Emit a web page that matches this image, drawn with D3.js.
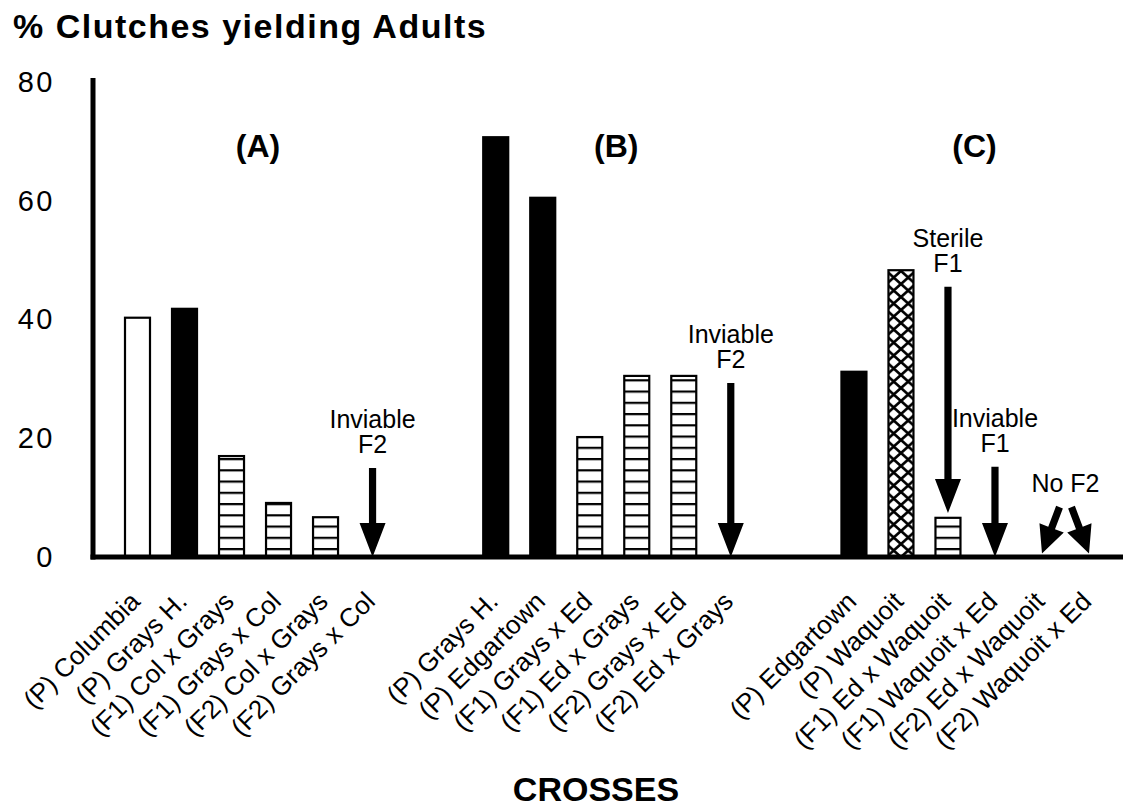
<!DOCTYPE html>
<html>
<head>
<meta charset="utf-8">
<script src="https://cdn.jsdelivr.net/npm/d3@7"></script>
<style>
  body { margin: 0; background: #fff; }
  svg { display: block; font-family: "Liberation Sans", Arial, Helvetica, sans-serif; }
</style>
</head>
<body>
<svg id="graph"></svg>
<script>
// Data
const groupNames = [ "(A)", "(B)", "(C)" ];
const crosses = [
    [ "(P) Columbia", "(P) Grays H.", "(F1) Col x Grays", "(F1) Grays x Col", "(F2) Col x Grays", "(F2) Grays x Col" ],
    [ "(P) Grays H.", "(P) Edgartown", "(F1) Grays x Ed", "(F1) Ed x Grays", "(F2) Grays x Ed", "(F2) Ed x Grays" ],
    [ "(P) Edgartown", "(P) Waquoit", "(F1) Ed x Waquoit", "(F1) Waquoit x Ed", "(F2) Ed x Waquoit", "(F2) Waquoit x Ed" ]
];
const pctAdults = [
    [ 40.3, 41.8, 17.0, 9.1, 6.7, 0 ],
    [ 70.7, 60.5, 20.2, 30.5, 30.5, 0 ],
    [ 31.2, 48.3, 6.6, 0, 0, 0 ]
];
const barKind = [
    [ "open", "solid", "hatch", "hatch", "hatch", null ],
    [ "solid", "solid", "hatch", "hatch", "hatch", null ],
    [ "solid", "cross", "hatch", null, null, null ]
];
const yTicks = [ 0, 20, 40, 60, 80 ];
// annotations: group, target crosses, label lines, arrow start / end (in % units)
const notes = [
    { group: 0, targets: [ 5 ], lines: [ "Inviable", "F2" ], from: 15, to: 0 },
    { group: 1, targets: [ 5 ], lines: [ "Inviable", "F2" ], from: 29.3, to: 0 },
    { group: 2, targets: [ 2 ], lines: [ "Sterile", "F1" ], from: 45.5, to: 7.4 },
    { group: 2, targets: [ 3 ], lines: [ "Inviable", "F1" ], from: 15.2, to: 0 },
    { group: 2, targets: [ 4, 5 ], lines: [ "No F2" ], from: 8.4, to: 0.6 }
];

// Layout
var svgWidth = 1123,
    svgHeight = 808,
    groupGap = 1.62,
    barWidth = 25,
    axisX = 93,
    labelFont = 26;

const svg = d3.select( "svg#graph" )
    .attr( "width", svgWidth )
    .attr( "height", svgHeight );

const pos = ( g, i ) => g * ( 6 + groupGap ) + i;
const x = d3.scaleLinear().domain( [ 0, pos( 2, 5 ) ] ).range( [ 137.5, 1089 ] );
const y = d3.scaleLinear().domain( [ 0, 80 ] ).range( [ 557, 82 ] );

// patterns
const defs = svg.append( "defs" );
const hatch = defs.append( "pattern" )
    .attr( "id", "hatch" )
    .attr( "patternUnits", "userSpaceOnUse" )
    .attr( "width", 40 ).attr( "height", 11.25 )
    .attr( "y", y( 0 ) - 9 );
hatch.append( "rect" ).attr( "width", 40 ).attr( "height", 11.25 ).attr( "fill", "#fff" );
hatch.append( "rect" ).attr( "y", 0 ).attr( "width", 40 ).attr( "height", 2.2 ).attr( "fill", "#000" );

const cross = defs.append( "pattern" )
    .attr( "id", "cross" )
    .attr( "patternUnits", "userSpaceOnUse" )
    .attr( "width", 14.5 ).attr( "height", 13 )
    .attr( "x", x( pos( 2, 1 ) ) - 14.5 )
    .attr( "y", y( 0 ) );
cross.append( "rect" ).attr( "width", 14.5 ).attr( "height", 13 ).attr( "fill", "#fff" );
cross.append( "path" )
    .attr( "d", "M-1,-1L15.5,14M15.5,-1L-1,14" )
    .attr( "stroke", "#000" ).attr( "stroke-width", 2.6 );

const fillFor = { open: "#fff", solid: "#000", hatch: "url(#hatch)", cross: "url(#cross)" };

// flatten data
const bars = [];
crosses.forEach( ( list, g ) => list.forEach( ( name, i ) => {
    bars.push( { g: g, i: i, name: name, value: pctAdults[ g ][ i ], kind: barKind[ g ][ i ] } );
} ) );

// bars
svg.append( "g" ).classed( "bars", true )
    .selectAll( "rect" )
    .data( bars.filter( d => d.kind ) )
    .enter()
    .append( "rect" )
    .attr( "x", d => x( pos( d.g, d.i ) ) - barWidth / 2 )
    .attr( "width", barWidth )
    .attr( "y", d => y( d.value ) )
    .attr( "height", d => y( 0 ) - y( d.value ) )
    .attr( "fill", d => fillFor[ d.kind ] )
    .attr( "stroke", "#000" )
    .attr( "stroke-width", 2.2 );

// axes
svg.append( "line" )
    .attr( "x1", axisX ).attr( "x2", axisX )
    .attr( "y1", 78 ).attr( "y2", y( 0 ) + 2.5 )
    .attr( "stroke", "#000" ).attr( "stroke-width", 5 );
svg.append( "line" )
    .attr( "x1", axisX - 2.5 ).attr( "x2", svgWidth )
    .attr( "y1", y( 0 ) ).attr( "y2", y( 0 ) )
    .attr( "stroke", "#000" ).attr( "stroke-width", 5 );

const yAxis = svg.append( "g" )
    .attr( "transform", "translate(" + axisX + ",0)" )
    .call( d3.axisLeft( y ).tickValues( yTicks ).tickSize( 0 ).tickPadding( 38 ) );
yAxis.select( ".domain" ).remove();
yAxis.selectAll( "text" )
    .attr( "font-family", "'Liberation Sans', Arial, sans-serif" )
    .attr( "font-size", 29 )
    .attr( "letter-spacing", 2.5 )
    .attr( "fill", "#000" );

// category labels
svg.append( "g" ).classed( "cat-labels", true )
    .selectAll( "text" )
    .data( bars )
    .enter()
    .append( "text" )
    .attr( "transform", d => "translate(" + [ x( pos( d.g, d.i ) ) + 4, 603 ] + ") rotate(-45)" )
    .attr( "text-anchor", "end" )
    .attr( "font-size", labelFont )
    .text( d => d.name );

// group labels
svg.append( "g" )
    .selectAll( "text" )
    .data( groupNames )
    .enter()
    .append( "text" )
    .attr( "x", ( d, g ) => ( x( pos( g, 0 ) ) + x( pos( g, 5 ) ) ) / 2 + 3 )
    .attr( "y", 157 )
    .attr( "text-anchor", "middle" )
    .attr( "font-size", 32 )
    .attr( "font-weight", "bold" )
    .text( d => d );

// arrows + notes
function arrow( parent, x1, y1, x2, y2 ) {
    const dx = x2 - x1, dy = y2 - y1, len = Math.hypot( dx, dy );
    const ux = dx / len, uy = dy / len, nx = -uy, ny = ux;
    const head = Math.min( 34, len * 0.55 ), half = 13, shaft = 3.6;
    const bx = x2 - ux * head, by = y2 - uy * head;
    const pts = [
        [ x1 + nx * shaft, y1 + ny * shaft ],
        [ bx + nx * shaft, by + ny * shaft ],
        [ bx + nx * half, by + ny * half ],
        [ x2, y2 ],
        [ bx - nx * half, by - ny * half ],
        [ bx - nx * shaft, by - ny * shaft ],
        [ x1 - nx * shaft, y1 - ny * shaft ]
    ];
    parent.append( "path" ).attr( "d", "M" + pts.join( "L" ) + "Z" ).attr( "fill", "#000" );
}

const noteLayer = svg.append( "g" ).classed( "notes", true );
notes.forEach( n => {
    const xs = n.targets.map( i => x( pos( n.group, i ) ) );
    const cx = d3.mean( xs );
    const top = y( n.from );
    if ( xs.length === 1 ) {
        arrow( noteLayer, cx, top, cx, y( n.to ) );
    } else {
        arrow( noteLayer, cx - 6, top, xs[ 0 ], y( n.to ) );
        arrow( noteLayer, cx + 6, top, xs[ 1 ], y( n.to ) );
    }
    n.lines.forEach( ( line, k ) => {
        noteLayer.append( "text" )
            .attr( "x", cx )
            .attr( "y", top - 15 - ( n.lines.length - 1 - k ) * 25 )
            .attr( "text-anchor", "middle" )
            .attr( "font-size", 25 )
            .text( line );
    } );
} );

// titles
svg.append( "text" )
    .attr( "x", 13 ).attr( "y", 38 )
    .attr( "font-size", 34 )
    .attr( "font-weight", "bold" )
    .attr( "letter-spacing", 1.5 )
    .text( "% Clutches yielding Adults" );
svg.append( "text" )
    .attr( "x", 596 ).attr( "y", 801 )
    .attr( "text-anchor", "middle" )
    .attr( "font-size", 34 )
    .attr( "font-weight", "bold" )
    .text( "CROSSES" );
</script>
</body>
</html>
